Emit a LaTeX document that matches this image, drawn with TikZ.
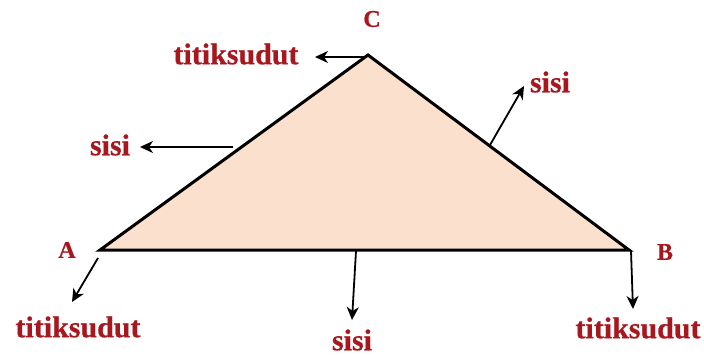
\documentclass[tikz,border=0pt]{standalone}
\usepackage{fontspec}
\setmainfont{Liberation Serif}[FakeBold=0.6]
\usetikzlibrary{arrows.meta}
\definecolor{labred}{HTML}{A8161E}
\definecolor{peach}{HTML}{FAE0CD}
\tikzset{
  lbl/.style={text=labred,font=\bfseries\fontsize{30}{32}\selectfont,inner sep=0pt},
  vlbl/.style={text=labred,font=\bfseries\fontsize{24}{26}\selectfont,inner sep=0pt},
  arr/.style={line width=1.8pt,-{Stealth[length=13pt,width=12pt,inset=4pt]}},
  tri/.style={line width=3pt,fill=peach,line join=miter}
}
\begin{document}
\begin{tikzpicture}[x=1pt,y=-1pt]
\useasboundingbox (0,0) rectangle (704,356);
\coordinate (A) at (100,250);
\coordinate (B) at (629,250);
\coordinate (C) at (368,55);
\draw[tri] (A) -- (B) -- (C) -- cycle;
% vertex letters
\node[vlbl] (lC) at (372,19) {C};
\node[vlbl] (lA) at (67,250) {A};
\node[vlbl] (lB) at (665,252) {B};
% labels
\node[lbl] (tC) at (236,54) {titiksudut};
\node[lbl] (tA) at (78,327) {titiksudut};
\node[lbl] (tB) at (638,328) {titiksudut};
\node[lbl] (sL) at (110,145) {sisi};
\node[lbl] (sR) at (550,82) {sisi};
\node[lbl] (sB) at (352,340) {sisi};
% arrow ends
\coordinate (eC1) at (366,57);
\coordinate (eC2) at (315,57);
\coordinate (eL1) at (233,147);
\coordinate (eL2) at (140,147);
\coordinate (eR1) at (490,145);
\coordinate (eR2) at (524,86);
\coordinate (eA1) at (98,258);
\coordinate (eA2) at (72,302);
\coordinate (eB1) at (631,251);
\coordinate (eB2) at (633,309);
\coordinate (eS1) at (356,251);
\coordinate (eS2) at (352,320);
\draw[arr] (eC1) -- (eC2);
\draw[arr] (eL1) -- (eL2);
\draw[arr] (eR1) -- (eR2);
\draw[arr] (eA1) -- (eA2);
\draw[arr] (eB1) -- (eB2);
\draw[arr] (eS1) -- (eS2);
\end{tikzpicture}
\end{document}
